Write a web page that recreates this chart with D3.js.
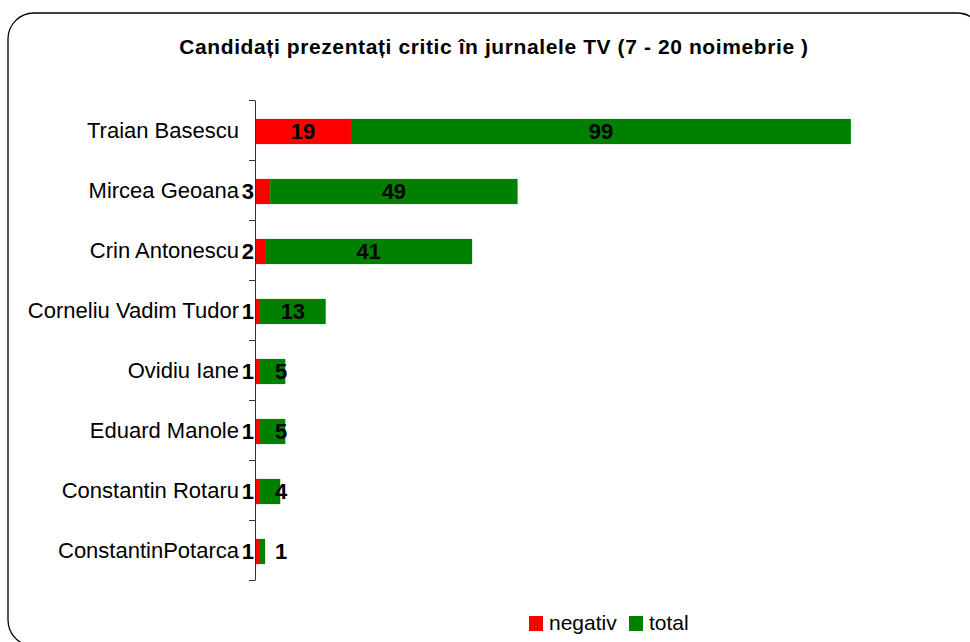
<!DOCTYPE html>
<html>
<head>
<meta charset="utf-8">
<script src="https://cdn.jsdelivr.net/npm/d3@7"></script>
<style>
  body { margin: 0; background: #fff; }
  text { font-family: "Liberation Sans", Arial, sans-serif; }
</style>
</head>
<body>
<div id="chart"></div>
<script>
var candidates = ["Traian Basescu", "Mircea Geoana", "Crin Antonescu", "Corneliu Vadim Tudor",
                  "Ovidiu Iane", "Eduard Manole", "Constantin Rotaru", "ConstantinPotarca"];
var negativ = [19, 3, 2, 1, 1, 1, 1, 1];
var total = [99, 49, 41, 13, 5, 5, 4, 1];
var seriesNames = ["negativ", "total"];
var seriesColors = ["#ff0000", "#008000"];

var width = 970, height = 642;

var svg = d3.select("#chart").append("svg")
    .attr("width", width).attr("height", height);

// frame with rounded corners, runs off right / bottom
svg.append("rect")
    .attr("x", 8).attr("y", 13)
    .attr("width", 975).attr("height", 633)
    .attr("rx", 26).attr("ry", 26)
    .attr("fill", "none")
    .attr("stroke", "#000")
    .attr("stroke-width", 1.3);

svg.append("text")
    .attr("x", 494).attr("y", 54)
    .attr("text-anchor", "middle")
    .attr("font-size", 21)
    .attr("font-weight", "bold")
    .attr("letter-spacing", 0.6)
    .text("Candidați prezentați critic în jurnalele TV (7 - 20 noimebrie )");

var xScale = d3.scaleLinear().domain([0, 120]).range([255, 861]);
var yScale = d3.scaleBand().domain(candidates).range([100, 580]).paddingInner(0.58).paddingOuter(0.29);

var rows = candidates.map(function(d, i){
    return { name: d, neg: negativ[i], tot: total[i] };
});

// bars
var g = svg.append("g");
g.selectAll(".neg").data(rows).enter()
    .append("rect")
    .attr("x", xScale(0))
    .attr("y", function(d){ return yScale(d.name) + 1.5; })
    .attr("width", function(d){ return xScale(d.neg) - xScale(0); })
    .attr("height", yScale.bandwidth())
    .attr("fill", seriesColors[0]);

g.selectAll(".tot").data(rows).enter()
    .append("rect")
    .attr("x", function(d){ return xScale(d.neg); })
    .attr("y", function(d){ return yScale(d.name) + 1.5; })
    .attr("width", function(d){ return xScale(d.neg + d.tot) - xScale(d.neg); })
    .attr("height", yScale.bandwidth())
    .attr("fill", seriesColors[1]);

// axis
var yAxis = d3.axisLeft(yScale).tickSize(0).tickPadding(16);
var axisG = svg.append("g").attr("transform", "translate(255,0)").call(yAxis);
axisG.select(".domain").attr("stroke", "#333");
axisG.selectAll("text")
    .attr("font-size", 22)
    .attr("fill", "#000")
    .attr("dy", "0.36em")
    .attr("font-family", "'Liberation Sans', Arial, sans-serif");

// category separator ticks
var tickYs = [100].concat(candidates.map(function(d){ return yScale(d) - yScale.step() * yScale.paddingInner() / 2 + yScale.step(); }));
svg.selectAll(".sep").data(tickYs).enter()
    .append("line")
    .attr("x1", 249).attr("x2", 255)
    .attr("y1", function(d){ return Math.round(d) + 0.5; })
    .attr("y2", function(d){ return Math.round(d) + 0.5; })
    .attr("stroke", "#333");

// value labels
var labelY = function(d){ return yScale(d.name) + yScale.bandwidth() / 2 + 9; };

svg.selectAll(".negLabel").data(rows).enter()
    .append("text")
    .attr("x", function(d){
        var w = xScale(d.neg) - xScale(0);
        return w > 30 ? (xScale(0) + xScale(d.neg)) / 2 : xScale(0) - 1;
    })
    .attr("text-anchor", function(d){ return (xScale(d.neg) - xScale(0)) > 30 ? "middle" : "end"; })
    .attr("y", labelY)
    .attr("font-size", 22)
    .attr("font-weight", "bold")
    .text(function(d){ return d.neg; });

svg.selectAll(".totLabel").data(rows).enter()
    .append("text")
    .attr("x", function(d){
        var c = (xScale(d.neg) + xScale(d.neg + d.tot)) / 2;
        return Math.max(c, xScale(d.neg) + 21);
    })
    .attr("text-anchor", "middle")
    .attr("y", labelY)
    .attr("font-size", 22)
    .attr("font-weight", "bold")
    .text(function(d){ return d.tot; });

// legend
var legend = svg.append("g").attr("transform", "translate(529,615)");
var legendX = [0, 100];
legend.selectAll("rect").data(seriesNames).enter()
    .append("rect")
    .attr("x", function(d, i){ return legendX[i]; })
    .attr("y", 1)
    .attr("width", 14).attr("height", 15)
    .attr("fill", function(d, i){ return seriesColors[i]; });
legend.selectAll("text").data(seriesNames).enter()
    .append("text")
    .attr("x", function(d, i){ return legendX[i] + 20; })
    .attr("y", 15)
    .attr("font-size", 21)
    .text(function(d){ return d; });
</script>
</body>
</html>
